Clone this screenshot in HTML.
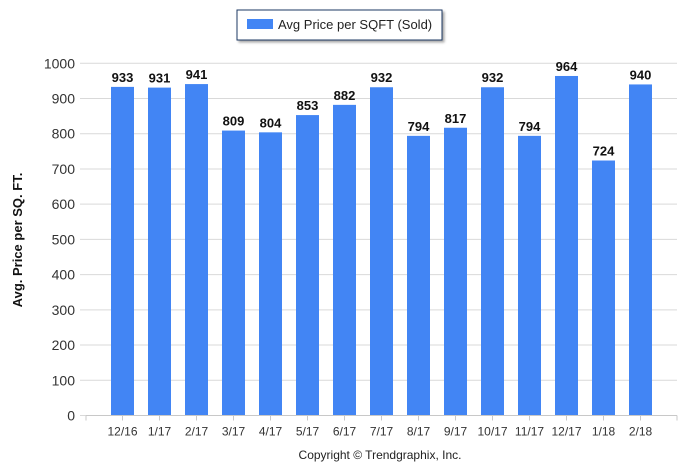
<!DOCTYPE html>
<html><head><meta charset="utf-8"><style>
body{margin:0;background:#fff;}
svg{display:block;font-family:"Liberation Sans",Arial,sans-serif;}
</style></head><body>
<svg id="chart" width="699" height="473">
<defs><filter id="sh" x="-5%" y="-20%" width="115%" height="160%"><feDropShadow dx="2" dy="2" stdDeviation="1.2" flood-color="#000" flood-opacity="0.35"/></filter></defs>
<g>
<rect x="237" y="10" width="205" height="30" fill="#fff" stroke="#1f3864" stroke-width="1" filter="url(#sh)"/>
<rect x="247" y="19" width="26" height="10" fill="#4285f4"/>
<text x="278" y="29" font-size="13" fill="#222">Avg Price per SQFT (Sold)</text>
</g>
<g id="grid"></g><g id="bars"></g><g id="axes"></g>
<text transform="translate(22,240) rotate(-90)" text-anchor="middle" font-size="13" font-weight="bold" fill="#111">Avg. Price per SQ. FT.</text>
<text x="380" y="459" text-anchor="middle" font-size="12" fill="#222">Copyright © Trendgraphix, Inc.</text>
</svg>
<script>
const categories=["12/16","1/17","2/17","3/17","4/17","5/17","6/17","7/17","8/17","9/17","10/17","11/17","12/17","1/18","2/18"];
const values=[933,931,941,809,804,853,882,932,794,817,932,794,964,724,940];
const yTicks=[0,100,200,300,400,500,600,700,800,900,1000];
const NS="http://www.w3.org/2000/svg";
const x0=86,slot=37,y0=415.5,yTop=63.3,yMax=1000,bw=23,xEnd=677;
function ys(v){return y0-(v/yMax)*(y0-yTop);}
function xc(i){return x0+slot*(i+1)-0.5;}
function mk(tag,attrs,parent){const e=document.createElementNS(NS,tag);for(const k in attrs)e.setAttribute(k,attrs[k]);parent.appendChild(e);return e;}
const grid=document.getElementById('grid'),bars=document.getElementById('bars'),axes=document.getElementById('axes');
yTicks.forEach(t=>{
 const l=mk('line',{x1:80,x2:xEnd,y1:ys(t),y2:ys(t),stroke:'#d9d9d9','stroke-width':1},grid);
 
 
 const tx=mk('text',{x:75,y:ys(t)+5,'text-anchor':'end','font-size':14,fill:'#333'},axes);
 tx.textContent=t;
 
 
});
const ax=mk('line',{x1:x0,x2:xEnd,y1:y0,y2:y0,stroke:'#c8c8c8','stroke-width':1},axes);


[x0,xEnd].forEach(x=>{const t=mk('line',{x1:x,x2:x,y1:y0,y2:y0+5,stroke:'#c8c8c8'},axes);
 
 });
categories.forEach((c,i)=>{
 const v=values[i],x=xc(i);
 const r=mk('rect',{x:x-bw/2,y:ys(v),width:bw,height:y0-ys(v),fill:'#4285f4'},bars);
 
 
 const vl=mk('text',{x:x,y:ys(v)-5,'text-anchor':'middle','font-size':13,'font-weight':'bold',fill:'#111'},bars);
 vl.textContent=v;
 
 
 const tk=mk('line',{x1:x,x2:x,y1:y0,y2:y0+5,stroke:'#c8c8c8'},axes);
 
 
 const cl=mk('text',{x:x,y:y0+20,'text-anchor':'middle','font-size':12,fill:'#333'},axes);
 cl.textContent=c;
 
 
});
</script>
</body></html>
